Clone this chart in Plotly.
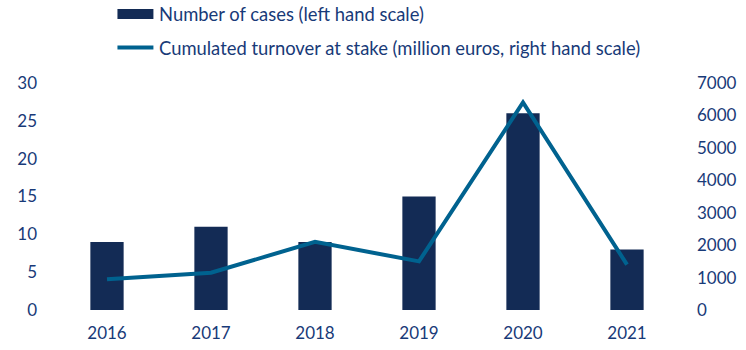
import plotly.graph_objects as go

years = ["2016", "2017", "2018", "2019", "2020", "2021"]
cases = [9, 11, 9, 15, 26, 8]
turnover = [950, 1150, 2100, 1500, 6400, 1400]
left_ticks = [0, 5, 10, 15, 20, 25, 30]
right_ticks = [0, 1000, 2000, 3000, 4000, 5000, 6000, 7000]
legend_labels = ["Number of cases (left hand scale)",
                 "Cumulated turnover at stake (million euros, right hand scale)"]

BAR = "#132b55"
LINE = "#00628f"
TXT = "#183a78"
FONT = "Lato"

W, H = 746, 350
L, R, T, B = 54.5, 67, 83, 40
pw, ph = W - L - R, H - T - B

def px_x(x):
    return (x - L) / pw

def px_y(y):
    return (H - B - y) / ph

fig = go.Figure()
fig.add_trace(go.Bar(x=years, y=cases, marker_color=BAR, marker_line_width=0,
                     name=legend_labels[0], yaxis="y"))
fig.add_trace(go.Scatter(x=years, y=turnover, mode="lines",
                         line=dict(color=LINE, width=4), name=legend_labels[1],
                         yaxis="y2"))

fig.update_layout(
    width=W, height=H,
    margin=dict(l=L, r=R, t=T, b=B, pad=0),
    paper_bgcolor="white", plot_bgcolor="white",
    showlegend=False,
    bargap=0.68,
    font=dict(family=FONT, size=17, color=TXT),
    xaxis=dict(showgrid=False, showline=False, zeroline=False, automargin=False,
               ticks="", ticklabelstandoff=11,
               tickfont=dict(size=17, color=TXT)),
    yaxis=dict(range=[0, 30], tickvals=left_ticks, showgrid=False, automargin=False,
               zeroline=False, showline=False, ticks="",
               ticklabelstandoff=17, tickfont=dict(size=17, color=TXT)),
    yaxis2=dict(range=[0, 7000], tickvals=right_ticks, overlaying="y", automargin=False,
                side="right", showgrid=False, zeroline=False, showline=False,
                ticks="", ticklabelstandoff=17,
                tickfont=dict(size=17, color=TXT)),
)

# custom legend
fig.add_shape(type="rect", xref="paper", yref="paper",
              x0=px_x(117), x1=px_x(153), y0=px_y(19), y1=px_y(9),
              fillcolor=BAR, line_width=0)
fig.add_shape(type="line", xref="paper", yref="paper",
              x0=px_x(117), x1=px_x(153), y0=px_y(47.5), y1=px_y(47.5),
              line=dict(color=LINE, width=4))
for i, yy in enumerate([14, 47.5]):
    fig.add_annotation(text=legend_labels[i], xref="paper", yref="paper",
                       x=px_x(157), y=px_y(yy), xanchor="left", yanchor="middle",
                       showarrow=False, font=dict(size=18.4, color=TXT, family=FONT))

fig.write_html("out.html")
